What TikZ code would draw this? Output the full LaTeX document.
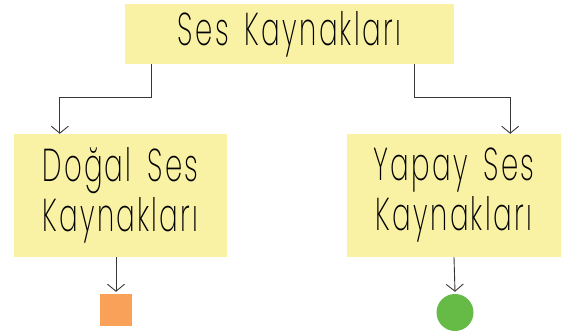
\documentclass[tikz,border=0pt]{standalone}
\usepackage{fontspec}
\setmainfont{Poppins ExtraLight}[FakeStretch=0.6, LetterSpace=5, WordSpace=1.6]
\usepackage{xcolor}
\usetikzlibrary{arrows.meta,calc}

\definecolor{boxyellow}{RGB}{249,242,165}
\definecolor{sqorange}{RGB}{249,161,88}
\definecolor{dotgreen}{RGB}{102,187,70}
\definecolor{linegray}{RGB}{55,55,55}

\begin{document}
\begin{tikzpicture}[x=1pt, y=1pt,
    arr/.style={-{Straight Barb[length=7pt,width=17pt]}, linegray, line width=0.9pt},
    srcbox/.style={fill=boxyellow, inner sep=0pt, align=center, font=\fontsize{46}{50}\selectfont}]
    \useasboundingbox (0,0) rectangle (570,334);

    \node[srcbox, minimum width=329pt, minimum height=60pt] (top) at (289.5,300) {Ses Kaynakları};

    \node[srcbox, minimum width=213pt, minimum height=123pt] (dogal) at (120.5,138.5) {Doğal Ses\\Kaynakları};
    \node[srcbox, minimum width=214pt, minimum height=123pt] (yapay) at (454,138.5) {Yapay Ses\\Kaynakları};

    \node[fill=sqorange, minimum size=32pt, inner sep=0pt] (kare) at (116,24) {};
    \node[circle, fill=dotgreen, minimum size=37pt, inner sep=0pt] (daire) at (455,21.5) {};

    \draw[arr] ([xshift=27pt]top.south west) -- ++(0,-33) -| ([xshift=46pt]dogal.north west);
    \draw[arr] ([xshift=-40pt]top.south east) -- ++(0,-33) -| ([xshift=-51pt]yapay.north east);

    \draw[arr] (kare.north |- dogal.south) -- ([yshift=2pt]kare.north);
    \draw[arr] (yapay.south) -- ([yshift=2pt]daire.north);
\end{tikzpicture}
\end{document}
